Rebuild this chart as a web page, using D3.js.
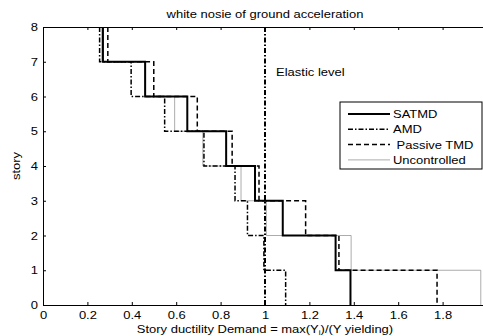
<!DOCTYPE html>
<html>
<head>
<meta charset="utf-8">
<script src="https://cdn.jsdelivr.net/npm/d3@7"></script>
<style>
  body { margin: 0; background: #fff; }
  text { font-family: "Liberation Sans", Arial, sans-serif; fill: #000; }
</style>
</head>
<body>
<svg id="chart" width="483" height="336"></svg>
<script>
// story index, top to bottom (story 8 ... story 1)
const stories = [8, 7, 6, 5, 4, 3, 2, 1];

// ductility demand per story, same order as stories
const satmd = [0.27, 0.46, 0.65, 0.825, 0.955, 1.08, 1.318, 1.385];
const amd = [0.255, 0.397, 0.548, 0.725, 0.865, 0.921, 0.995, 1.093];
const passiveTmd = [0.292, 0.499, 0.695, 0.852, 0.973, 1.183, 1.333, 1.775];
const uncontrolled = [0.265, 0.462, 0.593, 0.72, 0.892, 1.006, 1.388, 1.972];

const elasticLevel = 1;

const xTicks = [0, 0.2, 0.4, 0.6, 0.8, 1, 1.2, 1.4, 1.6, 1.8];
const yTicks = [0, 1, 2, 3, 4, 5, 6, 7, 8];

const series = [
  { name: "SATMD", values: satmd, width: 2, dash: null, color: "#000" },
  { name: "AMD", values: amd, width: 1.5, dash: "5,2,1.5,2", color: "#000" },
  { name: " Passive TMD", values: passiveTmd, width: 1.5, dash: "5,3", color: "#000" },
  { name: "Uncontrolled", values: uncontrolled, width: 0.7, dash: null, color: "#888" },
];

// the original's glyphs are a bit wider than Arial
const stretch = 1.18;

const svg = d3.select("#chart");
const margin = { left: 43, top: 27, right: -4, bottom: 31 };
const width = 483 - margin.left - margin.right;
const height = 336 - margin.top - margin.bottom;

const x = d3.scaleLinear().domain([0, 2]).range([margin.left, margin.left + width]);
const y = d3.scaleLinear().domain([0, 8]).range([margin.top + height, margin.top]);

const plot = svg.append("g");

// staircase points for one series
const stairs = (values) => {
  const pts = [];
  stories.forEach((s, i) => {
    pts.push([values[i], s]);
    pts.push([values[i], s - 1]);
  });
  return pts;
};

const line = d3.line().x((d) => x(d[0])).y((d) => y(d[1]));

// draw uncontrolled first so the others sit on top
[series[3], series[2], series[1], series[0]].forEach((s) => {
  plot
    .append("path")
    .attr("d", line(stairs(s.values)))
    .attr("fill", "none")
    .attr("stroke", s.color)
    .attr("stroke-width", s.width)
    .attr("stroke-dasharray", s.dash);
});

// elastic level
plot
  .append("line")
  .attr("x1", x(elasticLevel))
  .attr("x2", x(elasticLevel))
  .attr("y1", y(0))
  .attr("y2", y(8))
  .attr("stroke", "#000")
  .attr("stroke-width", 2)
  .attr("stroke-dasharray", "5,2,1.5,2");

svg
  .append("text")
  .attr("x", x(1.05))
  .attr("y", y(6.6))
  .attr("font-size", 11)
  .text("Elastic level");

// axes with inward ticks
const fmt = (d) => String(d);
svg
  .append("g")
  .attr("transform", `translate(0,${y(0)})`)
  .call(d3.axisBottom(x).tickValues(xTicks).tickFormat(fmt).tickSizeInner(-3).tickSizeOuter(0).tickPadding(6))
  .call((g) => g.selectAll("text").attr("font-size", 11));
svg
  .append("g")
  .attr("transform", `translate(0,${y(8)})`)
  .call(d3.axisTop(x).tickValues(xTicks).tickFormat("").tickSizeInner(-3).tickSizeOuter(0));
svg
  .append("g")
  .attr("transform", `translate(${x(0)},0)`)
  .call(d3.axisLeft(y).tickValues(yTicks).tickFormat(fmt).tickSizeInner(-3).tickSizeOuter(0).tickPadding(5))
  .call((g) => g.selectAll("text").attr("font-size", 11));
svg
  .append("g")
  .attr("transform", `translate(${x(2)},0)`)
  .call(d3.axisRight(y).tickValues(yTicks).tickFormat("").tickSizeInner(-3).tickSizeOuter(0));
svg.selectAll(".domain").attr("stroke", "#000");
svg.selectAll(".tick line").attr("stroke", "#000");

// title and labels
svg
  .append("text")
  .attr("x", x(1))
  .attr("y", 18)
  .attr("text-anchor", "middle")
  .attr("font-size", 11)
  .text("white nosie of ground acceleration");

const xl = svg
  .append("text")
  .attr("x", x(1))
  .attr("y", 333)
  .attr("text-anchor", "middle")
  .attr("font-size", 11);
xl.append("tspan").text("Story ductility Demand = max(Y");
xl.append("tspan").attr("font-size", 7).attr("dy", 2).text("i");
xl.append("tspan").attr("dy", -2).text(")/(Y yielding)");

// legend
const legend = svg.append("g").attr("transform", "translate(340,102)");
legend
  .append("rect")
  .attr("width", 142)
  .attr("height", 67)
  .attr("fill", "#fff")
  .attr("stroke", "#000")
  .attr("stroke-width", 1);
series.forEach((s, i) => {
  const ly = 12 + i * 15.3;
  legend
    .append("line")
    .attr("x1", 8)
    .attr("x2", 50)
    .attr("y1", ly)
    .attr("y2", ly)
    .attr("stroke", s.color)
    .attr("stroke-width", s.width)
    .attr("stroke-dasharray", s.dash);
  legend
    .append("text")
    .attr("x", 53)
    .attr("y", ly + 4)
    .attr("font-size", 11)
    .attr("xml:space", "preserve")
    .style("white-space", "pre")
    .text(s.name);
});

// widen every horizontal text around its own x
svg.selectAll("text").each(function () {
  const t = d3.select(this);
  const tx = +t.attr("x") || 0;
  const prev = t.attr("transform") || "";
  t.attr("transform", `${prev} translate(${tx * (1 - stretch)},0) scale(${stretch},1)`);
});

// y label is rotated, so add it after the stretch pass
svg
  .append("text")
  .attr("transform", `translate(20,${y(4)}) rotate(-90) scale(${stretch},1)`)
  .attr("text-anchor", "middle")
  .attr("font-size", 11)
  .text("story");
</script>
</body>
</html>
